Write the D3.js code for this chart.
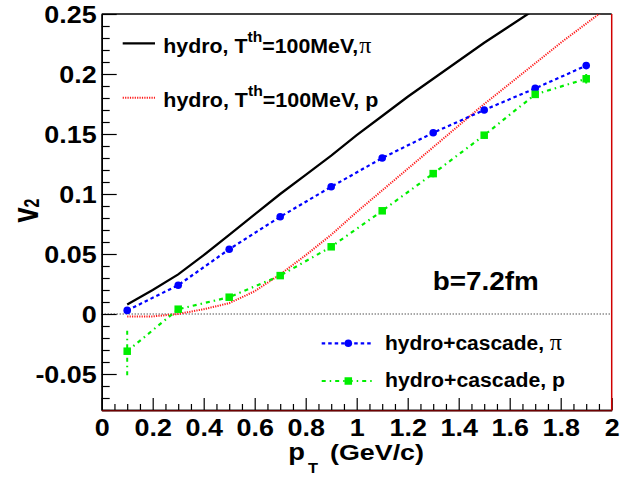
<!DOCTYPE html>
<html>
<head>
<meta charset="utf-8">
<script src="https://cdn.jsdelivr.net/npm/d3@7"></script>
<style>
  html, body { margin: 0; padding: 0; background: #fff; }
  svg { display: block; }
  text { font-family: "Liberation Sans", Arial, Helvetica, sans-serif; font-weight: bold; fill: #000; }
  .sym { font-family: "Liberation Serif", "DejaVu Serif", serif; font-weight: normal; }
</style>
</head>
<body>
<svg id="chart" width="637" height="477"></svg>
<script>
// ---------------- data ----------------
const pTCascade = [0.1, 0.3, 0.5, 0.7, 0.9, 1.1, 1.3, 1.5, 1.7, 1.9];
const v2PiCascade = [0.003, 0.024, 0.054, 0.081, 0.106, 0.130, 0.151, 0.170, 0.188, 0.207];
const v2PiCascadeErr = [0.002, 0.001, 0.001, 0.001, 0.001, 0.001, 0.001, 0.001, 0.002, 0.002];
const v2PCascade = [-0.031, 0.004, 0.014, 0.032, 0.056, 0.086, 0.117, 0.149, 0.183, 0.196];
const v2PCascadeErr = [0.020, 0.002, 0.002, 0.002, 0.002, 0.002, 0.003, 0.003, 0.003, 0.004];

const pTHydro = [0.1, 0.2, 0.3, 0.4, 0.5, 0.6, 0.7, 0.8, 0.9, 1.0, 1.1, 1.2, 1.3, 1.4, 1.5, 1.6, 1.7, 1.8, 1.9, 2.0];
const v2PiHydro = [0.008, 0.020, 0.033, 0.049, 0.066, 0.083, 0.100, 0.116, 0.132, 0.149, 0.165, 0.181, 0.196, 0.211, 0.226, 0.240, 0.254, 0.268, 0.281, 0.294];
const v2PHydro = [-0.002, -0.002, 0.000, 0.004, 0.009, 0.019, 0.033, 0.049, 0.066, 0.085, 0.103, 0.121, 0.139, 0.157, 0.175, 0.192, 0.209, 0.226, 0.242, 0.258];

const xTicks = [0, 0.2, 0.4, 0.6, 0.8, 1.0, 1.2, 1.4, 1.6, 1.8, 2.0];
const xTickLabels = ["0", "0.2", "0.4", "0.6", "0.8", "1", "1.2", "1.4", "1.6", "1.8", "2"];
const yTicks = [-0.05, 0, 0.05, 0.1, 0.15, 0.2, 0.25];
const yTickLabels = ["-0.05", "0", "0.05", "0.1", "0.15", "0.2", "0.25"];

const legendTop = ["hydro, T", "th", "=100MeV,", "\u03c0", "hydro, T", "th", "=100MeV, p"];
const legendBottom = ["hydro+cascade, ", "\u03c0", "hydro+cascade, p"];
const annotation = "b=7.2fm";

// ---------------- layout ----------------
const L = 101.7, R = 611.7, T = 14, B = 410;
const SX = 1.17; // horizontal stretch of tick-label glyphs in the reference

const svg = d3.select("#chart");
const x = d3.scaleLinear().domain([0, 2]).range([L, R]);
const y = d3.scaleLinear().domain([-0.08, 0.25]).range([B, T]);

svg.append("defs").append("clipPath").attr("id", "plotclip")
  .append("rect").attr("x", L).attr("y", T).attr("width", R - L).attr("height", B - T);

// zero line
svg.append("line")
  .attr("x1", x(0)).attr("x2", x(2)).attr("y1", y(0)).attr("y2", y(0))
  .attr("stroke", "#000").attr("stroke-width", 1).attr("stroke-dasharray", "1,2");

// ---------------- axes ----------------
const yMinor = d3.range(-8, 26).map(d => d / 100).filter(v => Math.abs(v * 20 - Math.round(v * 20)) > 1e-6);
const xMinor = d3.range(0, 41).map(d => d * 0.05).filter(v => Math.abs(v * 5 - Math.round(v * 5)) > 1e-6);

const gYMinor = svg.append("g").attr("transform", `translate(${L},0)`)
  .call(d3.axisLeft(y).tickValues(yMinor).tickSize(-8).tickSizeOuter(0).tickFormat(""));
const gY = svg.append("g").attr("transform", `translate(${L},0)`)
  .call(d3.axisLeft(y).tickValues(yTicks).tickSize(-15).tickSizeOuter(0)
    .tickFormat((d, i) => yTickLabels[i]));
const gXMinor = svg.append("g").attr("transform", `translate(0,${B})`)
  .call(d3.axisBottom(x).tickValues(xMinor).tickSize(-6).tickSizeOuter(0).tickFormat(""));
const gX = svg.append("g").attr("transform", `translate(0,${B})`)
  .call(d3.axisBottom(x).tickValues(xTicks).tickSize(-12).tickSizeOuter(0)
    .tickFormat((d, i) => xTickLabels[i]));

[gYMinor, gY, gXMinor, gX].forEach(g => {
  g.selectAll("line").attr("stroke", "#000").attr("stroke-width", 1.2);
  g.select(".domain").attr("stroke", "#000").attr("stroke-width", 1.5);
});
gY.selectAll("text")
  .attr("font-size", 23).attr("font-family", null).attr("fill", "#000")
  .attr("text-anchor", "end")
  .attr("x", 0).attr("dy", null).attr("y", 0)
  .attr("transform", `translate(-5,8) scale(${SX},1)`);
gX.selectAll("text")
  .attr("font-size", 23).attr("font-family", null).attr("fill", "#000")
  .attr("text-anchor", "middle")
  .attr("x", 0).attr("dy", null).attr("y", 0)
  .attr("transform", `translate(0,26) scale(${SX},1)`);

// frame: top black, right & bottom red
svg.append("line").attr("x1", L).attr("x2", R).attr("y1", T).attr("y2", T)
  .attr("stroke", "#000").attr("stroke-width", 1.3);
svg.append("line").attr("x1", R).attr("x2", R).attr("y1", T).attr("y2", B + 0.5)
  .attr("stroke", "#d00000").attr("stroke-width", 1.5);
svg.append("line").attr("x1", L).attr("x2", R).attr("y1", B + 0.8).attr("y2", B + 0.8)
  .attr("stroke", "#b00000").attr("stroke-width", 0.9);

// ---------------- curves ----------------
const line = d3.line().x(d => x(d[0])).y(d => y(d[1]));
const plot = svg.append("g").attr("clip-path", "url(#plotclip)");

const styles = {
  piHydro: { color: "#000000", width: 2.3, dash: null },
  pHydro:  { color: "#ff1a1a", width: 2.0, dash: "1.2,1.2" },
  piCasc:  { color: "#0000ff", width: 2.2, dash: "3.5,3" },
  pCasc:   { color: "#00ee00", width: 2.2, dash: "4,4,1.5,4" }
};

plot.append("path").datum(d3.zip(pTHydro, v2PiHydro)).attr("d", line)
  .attr("fill", "none").attr("stroke", styles.piHydro.color).attr("stroke-width", styles.piHydro.width);
plot.append("path").datum(d3.zip(pTHydro, v2PHydro)).attr("d", line)
  .attr("fill", "none").attr("stroke", styles.pHydro.color).attr("stroke-width", styles.pHydro.width)
  .attr("stroke-dasharray", styles.pHydro.dash);

plot.append("path").datum(d3.zip(pTCascade, v2PiCascade)).attr("d", line)
  .attr("fill", "none").attr("stroke", styles.piCasc.color).attr("stroke-width", styles.piCasc.width)
  .attr("stroke-dasharray", styles.piCasc.dash);
plot.append("path").datum(d3.zip(pTCascade, v2PCascade)).attr("d", line)
  .attr("fill", "none").attr("stroke", styles.pCasc.color).attr("stroke-width", styles.pCasc.width)
  .attr("stroke-dasharray", styles.pCasc.dash);

// error bars
plot.selectAll(".errPi").data(d3.zip(pTCascade, v2PiCascade, v2PiCascadeErr)).enter()
  .append("line")
  .attr("x1", d => x(d[0])).attr("x2", d => x(d[0]))
  .attr("y1", d => y(d[1] - d[2])).attr("y2", d => y(d[1] + d[2]))
  .attr("stroke", styles.piCasc.color).attr("stroke-width", 2).attr("stroke-dasharray", styles.piCasc.dash);
plot.selectAll(".errP").data(d3.zip(pTCascade, v2PCascade, v2PCascadeErr)).enter()
  .append("line")
  .attr("x1", d => x(d[0])).attr("x2", d => x(d[0]))
  .attr("y1", d => y(d[1] - d[2])).attr("y2", d => y(d[1] + d[2]))
  .attr("stroke", styles.pCasc.color).attr("stroke-width", 2).attr("stroke-dasharray", styles.pCasc.dash);

// markers
plot.selectAll(".mPi").data(d3.zip(pTCascade, v2PiCascade)).enter()
  .append("circle").attr("cx", d => x(d[0])).attr("cy", d => y(d[1])).attr("r", 3.8)
  .attr("fill", styles.piCasc.color);
const sq = 7.5;
plot.selectAll(".mP").data(d3.zip(pTCascade, v2PCascade)).enter()
  .append("rect").attr("x", d => x(d[0]) - sq / 2).attr("y", d => y(d[1]) - sq / 2)
  .attr("width", sq).attr("height", sq).attr("fill", styles.pCasc.color);

// ---------------- texts ----------------
function fitText(xp, yp, size, width, anchor) {
  return svg.append("text")
    .attr("x", xp).attr("y", yp)
    .attr("font-size", size).attr("text-anchor", anchor || "start")
    .attr("textLength", width).attr("lengthAdjust", "spacingAndGlyphs");
}

// top legend
svg.append("line").attr("x1", 122.7).attr("x2", 155).attr("y1", 43.3).attr("y2", 43.3)
  .attr("stroke", styles.piHydro.color).attr("stroke-width", 2.3);
svg.append("line").attr("x1", 122.7).attr("x2", 155).attr("y1", 97.7).attr("y2", 97.7)
  .attr("stroke", styles.pHydro.color).attr("stroke-width", 2.0).attr("stroke-dasharray", styles.pHydro.dash);

let t1 = fitText(163.3, 53.3, 20.5, 208);
t1.append("tspan").text(legendTop[0]);
t1.append("tspan").attr("font-size", 15).attr("dy", -11).text(legendTop[1]);
t1.append("tspan").attr("font-size", 20.5).attr("dy", 11).text(legendTop[2]);
t1.append("tspan").attr("class", "sym").attr("font-size", 23).attr("dx", 1).text(legendTop[3]);

let t2 = fitText(163.3, 106.7, 20.5, 215);
t2.append("tspan").text(legendTop[4]);
t2.append("tspan").attr("font-size", 15).attr("dy", -11).text(legendTop[5]);
t2.append("tspan").attr("font-size", 20.5).attr("dy", 11).text(legendTop[6]);

// bottom legend
svg.append("line").attr("x1", 321.7).attr("x2", 372.7).attr("y1", 343.3).attr("y2", 343.3)
  .attr("stroke", styles.piCasc.color).attr("stroke-width", 2.2).attr("stroke-dasharray", styles.piCasc.dash);
svg.append("circle").attr("cx", 348.3).attr("cy", 343.3).attr("r", 3.8).attr("fill", styles.piCasc.color);
svg.append("line").attr("x1", 321.7).attr("x2", 372.7).attr("y1", 381).attr("y2", 381)
  .attr("stroke", styles.pCasc.color).attr("stroke-width", 2.2).attr("stroke-dasharray", styles.pCasc.dash);
svg.append("rect").attr("x", 348.3 - sq / 2).attr("y", 381 - sq / 2).attr("width", sq).attr("height", sq)
  .attr("fill", styles.pCasc.color);

let t3 = fitText(385, 350, 20, 177);
t3.append("tspan").text(legendBottom[0]);
t3.append("tspan").attr("class", "sym").attr("font-size", 23).text(legendBottom[1]);
fitText(385, 386.5, 20, 180).text(legendBottom[2]);

// annotation
fitText(432.7, 289.5, 25, 106).text(annotation);

// ---------------- axis titles ----------------
fitText(288.3, 460, 23, 16.7).text("p");
fitText(308, 473, 14, 10).text("T");
fitText(330, 460, 22.5, 94).text("(GeV/c)");

let yt = svg.append("text")
  .attr("transform", `translate(38,210.5) scale(1.35,1) rotate(-90)`)
  .attr("font-size", 27).attr("text-anchor", "middle");
yt.append("tspan").text("v");
yt.append("tspan").attr("font-size", 16).attr("dy", 1).text("2");
</script>
</body>
</html>
